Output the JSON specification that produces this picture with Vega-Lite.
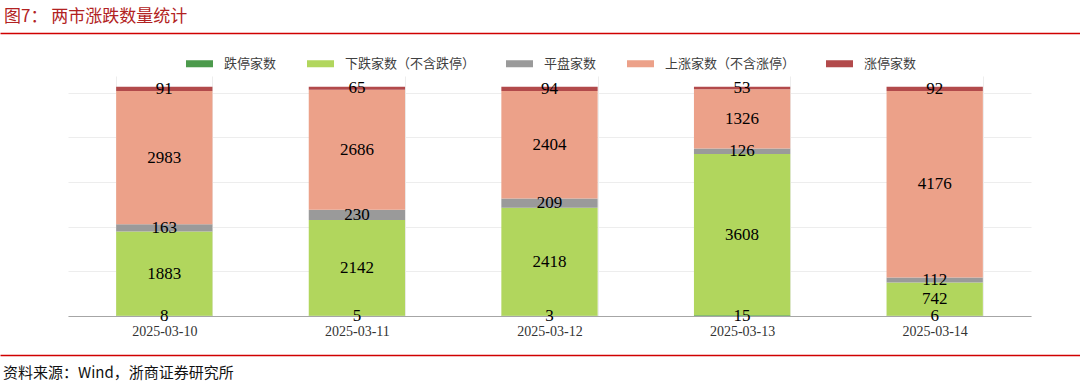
{
  "$schema": "https://vega.github.io/schema/vega-lite/v6.json",
  "padding": {"top": 8, "left": 0, "right": 0, "bottom": 0},
  "background": "white",
  "spacing": 17,
  "align": "none",
  "bounds": "full",
  "config": {"view": {"stroke": null}, "font": "Noto Sans CJK SC"},
  "resolve": {"legend": {"color": "independent"}, "scale": {"x": "independent", "y": "independent"}},
  "vconcat": [
    {
      "width": 1080,
      "height": 3,
      "title": {"text": "图7： 两市涨跌数量统计", "anchor": "start", "fontSize": 17, "font": "Noto Sans CJK SC", "fontWeight": "normal", "color": "#b22222", "offset": 4, "dx": 4},
      "data": {"values": [{"a": 0.5}]},
      "mark": {"type": "point", "opacity": 0, "size": 1},
      "encoding": {
        "x": {"field": "a", "type": "quantitative", "scale": {"domain": [0, 1]}, "axis": {"title": null, "labels": false, "ticks": false, "grid": false, "domainColor": "#d00000", "domainWidth": 1.5}}
      }
    },
    {
      "width": 1080,
      "height": 240,
      "data": {"values": [
        {"date": "2025-03-10", "cat": "跌停家数", "order": 1, "v": 8},
        {"date": "2025-03-10", "cat": "下跌家数（不含跌停）", "order": 2, "v": 1883},
        {"date": "2025-03-10", "cat": "平盘家数", "order": 3, "v": 163},
        {"date": "2025-03-10", "cat": "上涨家数（不含涨停）", "order": 4, "v": 2983},
        {"date": "2025-03-10", "cat": "涨停家数", "order": 5, "v": 91},
        {"date": "2025-03-11", "cat": "跌停家数", "order": 1, "v": 5},
        {"date": "2025-03-11", "cat": "下跌家数（不含跌停）", "order": 2, "v": 2142},
        {"date": "2025-03-11", "cat": "平盘家数", "order": 3, "v": 230},
        {"date": "2025-03-11", "cat": "上涨家数（不含涨停）", "order": 4, "v": 2686},
        {"date": "2025-03-11", "cat": "涨停家数", "order": 5, "v": 65},
        {"date": "2025-03-12", "cat": "跌停家数", "order": 1, "v": 3},
        {"date": "2025-03-12", "cat": "下跌家数（不含跌停）", "order": 2, "v": 2418},
        {"date": "2025-03-12", "cat": "平盘家数", "order": 3, "v": 209},
        {"date": "2025-03-12", "cat": "上涨家数（不含涨停）", "order": 4, "v": 2404},
        {"date": "2025-03-12", "cat": "涨停家数", "order": 5, "v": 94},
        {"date": "2025-03-13", "cat": "跌停家数", "order": 1, "v": 15},
        {"date": "2025-03-13", "cat": "下跌家数（不含跌停）", "order": 2, "v": 3608},
        {"date": "2025-03-13", "cat": "平盘家数", "order": 3, "v": 126},
        {"date": "2025-03-13", "cat": "上涨家数（不含涨停）", "order": 4, "v": 1326},
        {"date": "2025-03-13", "cat": "涨停家数", "order": 5, "v": 53},
        {"date": "2025-03-14", "cat": "跌停家数", "order": 1, "v": 6},
        {"date": "2025-03-14", "cat": "下跌家数（不含跌停）", "order": 2, "v": 742},
        {"date": "2025-03-14", "cat": "平盘家数", "order": 3, "v": 112},
        {"date": "2025-03-14", "cat": "上涨家数（不含涨停）", "order": 4, "v": 4176},
        {"date": "2025-03-14", "cat": "涨停家数", "order": 5, "v": 92}
      ]},
      "transform": [
        {"stack": "v", "groupby": ["date"], "sort": [{"field": "order", "order": "ascending"}], "as": ["v0", "v1"]},
        {"calculate": "(datum.v0 + datum.v1) / 2", "as": "mid"}
      ],
      "encoding": {
        "x": {"field": "date", "type": "ordinal", "scale": {"paddingInner": 0.5, "paddingOuter": 0.25, "range": [68, 1031]},
          "axis": {"title": null, "labelAngle": 0, "labelFont": "Liberation Serif", "labelFontSize": 14, "labelColor": "#333333", "labelPadding": 8, "ticks": false, "tickBand": "extent", "grid": true, "gridColor": "#ededed", "gridWidth": 1, "domainColor": "#a6a6a6", "domainWidth": 1}}
      },
      "layer": [
        {
          "mark": {"type": "bar"},
          "encoding": {
            "y": {"field": "v0", "type": "quantitative", "scale": {"domain": [0, 5370], "nice": false},
              "axis": {"title": null, "labels": false, "ticks": false, "domain": false, "grid": true, "gridColor": "#ededed", "gridWidth": 1, "values": [0, 1000, 2000, 3000, 4000, 5000]}},
            "y2": {"field": "v1"},
            "color": {"field": "cat", "type": "nominal",
              "scale": {"domain": ["跌停家数", "下跌家数（不含跌停）", "平盘家数", "上涨家数（不含涨停）", "涨停家数"], "range": ["#4c9a4c", "#b1d65d", "#9a9a9a", "#eca189", "#b24a4b"]},
              "legend": {"title": null, "orient": "none", "direction": "horizontal", "legendX": 186, "legendY": -26,
                "symbolType": "M-1,-0.26L1,-0.26L1,0.26L-1,0.26Z", "symbolSize": 729, "symbolStrokeWidth": 0, "symbolOpacity": 1,
                "labelFont": "Noto Sans CJK SC", "labelFontSize": 13, "labelColor": "#404040", "labelOffset": 11, "columnPadding": 30, "labelLimit": 300}}
          }
        },
        {
          "mark": {"type": "text", "font": "Liberation Serif", "fontSize": 17, "color": "#000000", "baseline": "middle"},
          "encoding": {
            "y": {"field": "mid", "type": "quantitative"},
            "text": {"field": "v", "type": "quantitative", "format": "d"}
          }
        }
      ]
    },
    {
      "width": 1080,
      "height": 4,
      "title": {"text": "资料来源：Wind，浙商证券研究所", "orient": "bottom", "anchor": "start", "fontSize": 15, "font": "Noto Sans CJK SC", "fontWeight": "normal", "color": "#111111", "offset": 7, "dx": 3},
      "data": {"values": [{"a": 0.5}]},
      "mark": {"type": "point", "opacity": 0, "size": 1},
      "encoding": {
        "x": {"field": "a", "type": "quantitative", "scale": {"domain": [0, 1]}, "axis": {"orient": "top", "title": null, "labels": false, "ticks": false, "grid": false, "domainColor": "#d00000", "domainWidth": 1.5}}
      }
    }
  ]
}
